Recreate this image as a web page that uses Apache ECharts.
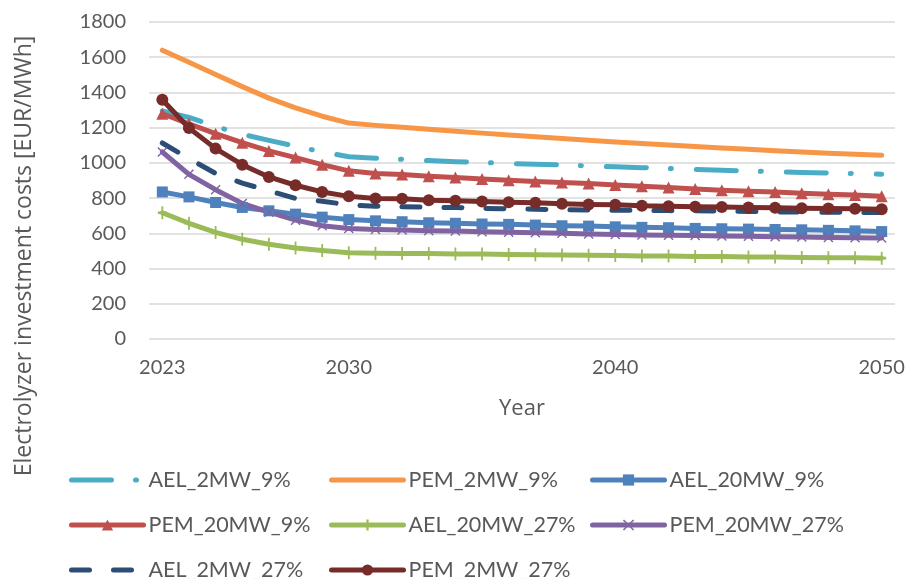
<!DOCTYPE html>
<html>
<head>
<meta charset="utf-8">
<script src="https://cdn.jsdelivr.net/npm/echarts@6/dist/echarts.min.js"></script>
<style>
  html, body { margin: 0; padding: 0; background: #ffffff; }
  #chart { width: 908px; height: 579px; }
</style>
</head>
<body>
<div id="chart"></div>
<script>
// Years on the category axis
const years = ['2023','2024','2025','2026','2027','2028','2029','2030','2031','2032',
  '2033','2034','2035','2036','2037','2038','2039','2040','2041','2042',
  '2043','2044','2045','2046','2047','2048','2049','2050'];
// Years that carry a tick label
const xTickLabels = ['2023', '2030', '2040', '2050'];

// Electrolyzer investment costs [EUR/MWh] per scenario
const AEL_2MW_9 = [1295, 1258, 1207, 1163, 1128, 1095, 1062, 1035, 1026, 1020,
  1013, 1007, 1002, 997, 992, 988, 983, 978, 973, 968,
  963, 958, 954, 950, 946, 942, 939, 936];
const PEM_2MW_9 = [1640, 1571, 1502, 1433, 1368, 1312, 1265, 1226, 1213, 1202,
  1191, 1180, 1169, 1158, 1148, 1138, 1128, 1119, 1110, 1101,
  1093, 1085, 1077, 1069, 1062, 1055, 1049, 1043];
const AEL_20MW_9 = [835, 807, 775, 747, 728, 709, 692, 678, 671, 666,
  660, 657, 653, 651, 647, 643, 641, 637, 634, 632,
  628, 626, 624, 622, 620, 617, 614, 610];
const PEM_20MW_9 = [1279, 1222, 1166, 1115, 1068, 1030, 990, 955, 940, 934,
  924, 917, 909, 902, 894, 889, 883, 875, 868, 860,
  852, 845, 839, 834, 828, 822, 818, 811];
const AEL_20MW_27 = [717, 657, 605, 566, 538, 517, 503, 490, 487, 486,
  485, 483, 482, 480, 479, 477, 476, 474, 472, 471,
  469, 468, 466, 465, 463, 462, 461, 459];
const PEM_20MW_27 = [1062, 935, 848, 770, 720, 675, 643, 627, 622, 619,
  615, 613, 609, 606, 603, 600, 596, 594, 590, 589,
  587, 585, 583, 581, 579, 577, 575, 573];
const AEL_2MW_27 = [1113, 1025, 940, 885, 842, 798, 782, 762, 754, 751,
  748, 746, 742, 739, 737, 734, 732, 731, 730, 729,
  728, 726, 724, 722, 721, 720, 719, 718];
const PEM_2MW_27 = [1358, 1198, 1081, 990, 920, 873, 835, 810, 798, 796,
  788, 785, 781, 777, 773, 768, 764, 762, 756, 754,
  751, 749, 747, 745, 743, 741, 739, 737];

// Thin cross and plus marker shapes
const X_MARK = 'path://M1,0 L5,4 L9,0 L10,1 L6,5 L10,9 L9,10 L5,6 L1,10 L0,9 L4,5 L0,1 Z';
const PLUS_MARK = 'path://M4,0 H6 V4 H10 V6 H6 V10 H4 V6 H0 V4 H4 Z';

const FONT = 'Lato, "Open Sans", sans-serif';
const TITLE_FONT = '"Open Sans", Lato, sans-serif';
const TEXT = '#595959';

function lineSeries(name, data, color, opts) {
  return Object.assign({
    name: name,
    type: 'line',
    data: data,
    symbol: 'none',
    symbolSize: 11,
    showSymbol: true,
    color: color,
    itemStyle: { color: color },
    lineStyle: { color: color, width: 5, cap: 'round', join: 'round' },
    emphasis: { disabled: true },
    animation: false
  }, opts || {});
}

const series = [
  lineSeries('AEL_2MW_9%', AEL_2MW_9, '#4BACC6', {
    lineStyle: { color: '#4BACC6', width: 5, cap: 'round', join: 'round', type: [40, 24, 1, 25] }
  }),
  lineSeries('PEM_2MW_9%', PEM_2MW_9, '#F79646'),
  lineSeries('AEL_20MW_9%', AEL_20MW_9, '#4F81BD', { symbol: 'rect', symbolSize: 11 }),
  lineSeries('PEM_20MW_9%', PEM_20MW_9, '#C0504D', { symbol: 'triangle', symbolSize: 12 }),
  lineSeries('AEL_20MW_27%', AEL_20MW_27, '#9BBB59', { symbol: PLUS_MARK, symbolSize: [9, 13], symbolKeepAspect: false }),
  lineSeries('PEM_20MW_27%', PEM_20MW_27, '#8064A2', { symbol: X_MARK, symbolSize: 10 }),
  lineSeries('AEL_2MW_27%', AEL_2MW_27, '#2C4D75', {
    lineStyle: { color: '#2C4D75', width: 5, cap: 'round', join: 'round', type: [18, 24] }
  }),
  lineSeries('PEM_2MW_27%', PEM_2MW_27, '#772C2A', { symbol: 'circle', symbolSize: 12 })
];

// Legend: three columns, three rows; plain lines get no marker in their key
const colLeft = [69, 329, 590];
const rowTop = [469, 514, 559];
const legends = series.map(function (s, i) {
  const plain = s.symbol === 'none';
  return {
    data: [s.name],
    left: colLeft[i % 3],
    top: rowTop[Math.floor(i / 3)],
    padding: 0,
    itemWidth: 72,
    itemHeight: 14,
    itemGap: 0,
    selectedMode: false,
    itemStyle: plain ? { opacity: 0 } : {},
    lineStyle: { width: 5, cap: 'round' },
    textStyle: { fontFamily: FONT, fontSize: 21.5, color: TEXT, padding: [0, 0, 0, 0] }
  };
});

const chart = echarts.init(document.getElementById('chart'), null, { renderer: 'canvas' });
chart.setOption({
  backgroundColor: '#ffffff',
  animation: false,
  grid: { left: 149, right: 13, top: 22, bottom: 240, containLabel: false },
  legend: legends,
  xAxis: {
    type: 'category',
    data: years,
    boundaryGap: true,
    axisLine: { show: false },
    axisTick: { show: false },
    axisLabel: {
      interval: function (index, value) { return xTickLabels.indexOf(value) >= 0; },
      margin: 19,
      fontFamily: FONT, fontSize: 20, color: TEXT
    },
    name: 'Year',
    nameLocation: 'middle',
    nameGap: 59,
    nameTextStyle: { fontFamily: TITLE_FONT, fontSize: 22, color: TEXT }
  },
  yAxis: {
    type: 'value',
    min: 0,
    max: 1800,
    interval: 200,
    axisLine: { show: false },
    axisTick: { show: false },
    axisLabel: {
      margin: 23, fontFamily: FONT, fontSize: 20, color: TEXT,
      formatter: function (v) { return String(v); }
    },
    splitLine: { lineStyle: { color: '#D9D9D9', width: 1.5 } }
  },
  graphic: [{
    type: 'text',
    x: 24,
    y: 256,
    rotation: Math.PI / 2,
    style: {
      text: 'Electrolyzer investment costs [EUR/MWh]',
      font: '23px ' + TITLE_FONT,
      fill: TEXT,
      align: 'center',
      verticalAlign: 'middle'
    }
  }],
  series: series
});
</script>
</body>
</html>
